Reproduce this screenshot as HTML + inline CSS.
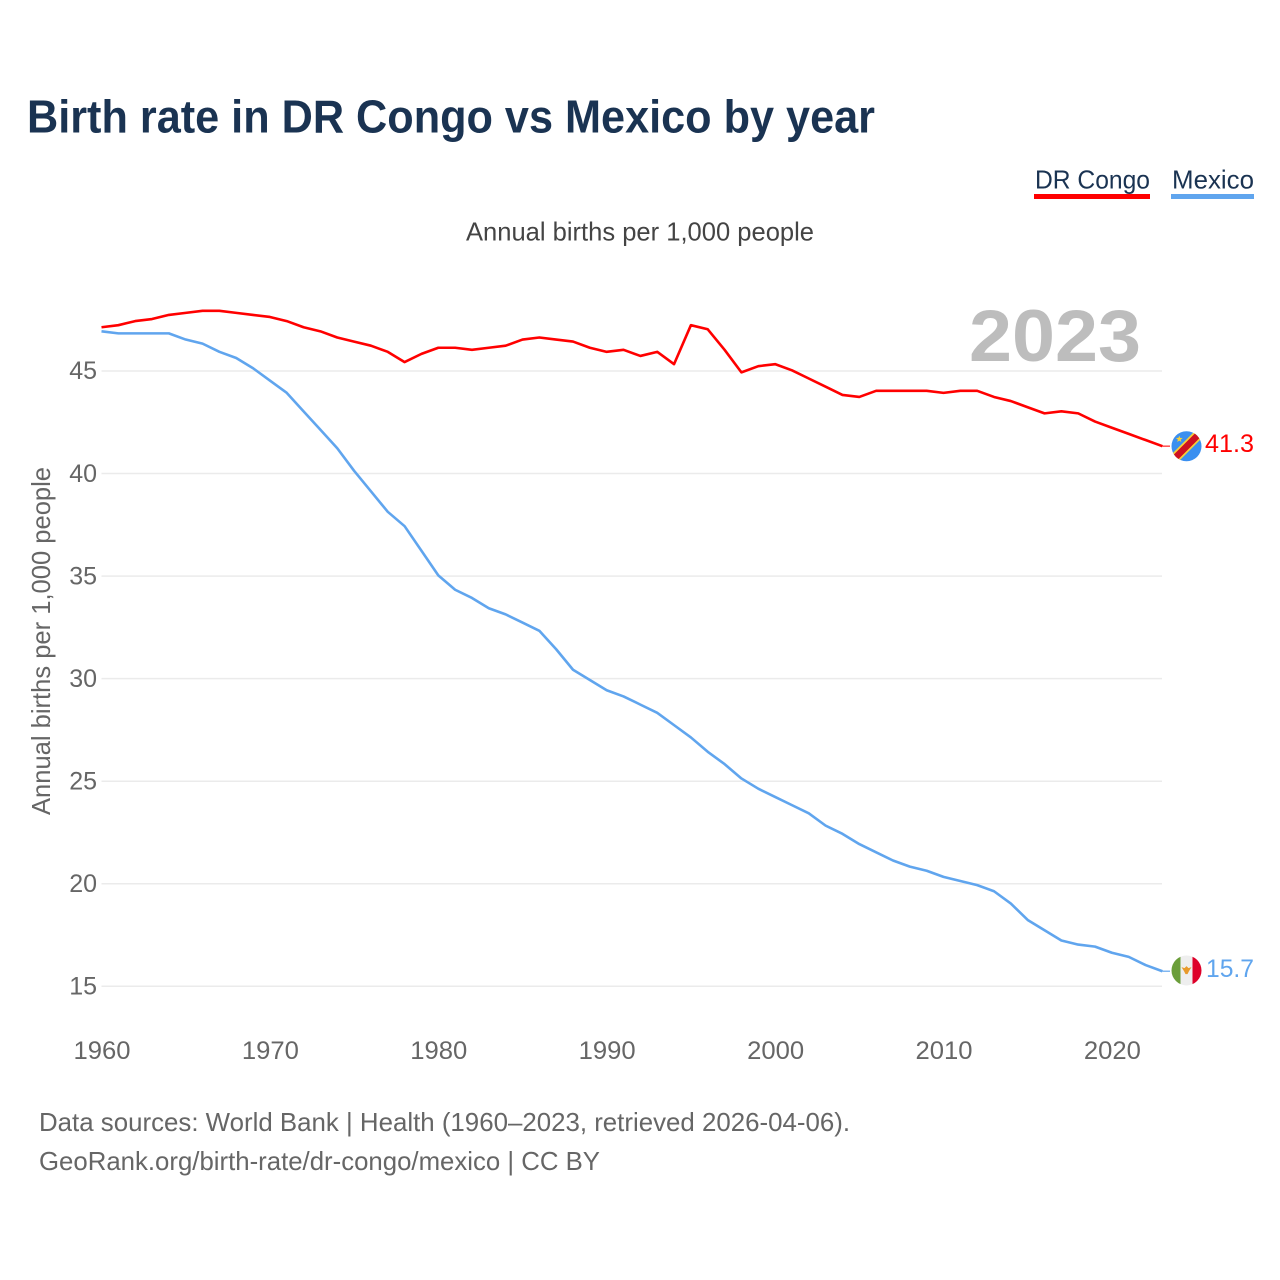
<!DOCTYPE html>
<html lang="en">
<head>
<meta charset="utf-8">
<title>Birth rate in DR Congo vs Mexico by year</title>
<style>
html,body{margin:0;padding:0;background:#fff;}
svg{display:block;font-family:"Liberation Sans",sans-serif;}
</style>
</head>
<body>
<svg id="chart" xmlns="http://www.w3.org/2000/svg" width="1280" height="1280" viewBox="0 0 1280 1280">
  <rect width="1280" height="1280" fill="#ffffff"/>
  <text x="27" y="132.5" font-size="46" font-weight="700" fill="#1a3352" textLength="848" lengthAdjust="spacingAndGlyphs">Birth rate in DR Congo vs Mexico by year</text>

  <g>
    <g>
      <text x="1035" y="188.5" font-size="26" fill="#1a3352" textLength="115" lengthAdjust="spacingAndGlyphs">DR Congo</text>
      <rect x="1034" y="194" width="116" height="5" fill="#ff0000"/>
    </g>
    <g>
      <text x="1172" y="188.5" font-size="26" fill="#1a3352" textLength="82" lengthAdjust="spacingAndGlyphs">Mexico</text>
      <rect x="1171" y="194" width="83" height="5" fill="#60a5ee"/>
    </g>
  </g>

  <text x="466" y="240.5" font-size="26" fill="#444444" textLength="348" lengthAdjust="spacingAndGlyphs">Annual births per 1,000 people</text>
  <text transform="translate(50,815) rotate(-90)" x="0" y="0" font-size="26" fill="#666666" textLength="348" lengthAdjust="spacingAndGlyphs">Annual births per 1,000 people</text>

  <g id="grid"></g>
  <g id="yticks"></g>
  <g id="xticks"></g>

  <text x="969" y="361" font-size="73" font-weight="700" fill="#bdbdbd" textLength="172" lengthAdjust="spacingAndGlyphs">2023</text>

  <g id="series"></g>

  <defs>
    <clipPath id="flag-clip-cd"><circle id="clip-cd" cx="1186.5" cy="446.3" r="15"/></clipPath>
    <clipPath id="flag-clip-mx"><circle id="clip-mx" cx="1186.5" cy="971.3" r="15"/></clipPath>
  </defs>

  <g id="flag-cd" clip-path="url(#flag-clip-cd)">
    <rect x="1171" y="431" width="31" height="31" fill="#3a8ff0"/>
    <line x1="1168" y1="465" x2="1205" y2="428" stroke="#f7d038" stroke-width="10"/>
    <line x1="1168" y1="465" x2="1205" y2="428" stroke="#ce1021" stroke-width="6.5"/>
    <polygon points="1179.3,435.6 1180.2,437.9 1182.7,438 1180.7,439.6 1181.4,442 1179.3,440.6 1177.2,442 1177.9,439.6 1175.9,438 1178.4,437.9" fill="#f7d038"/>
  </g>
  <g id="flag-mx" clip-path="url(#flag-clip-mx)">
    <rect x="1171" y="956" width="9.5" height="31" fill="#6b9e3a"/>
    <rect x="1180.5" y="956" width="12" height="31" fill="#eeeeee"/>
    <rect x="1192.5" y="956" width="10" height="31" fill="#de0029"/>
    <polygon points="1181.5,968 1184.5,969 1186.5,967 1188.5,969 1191.5,968 1189,972 1187.5,975 1185.5,975 1184,972" fill="#e89a2c"/>
  </g>

  <g id="endlabels"></g>

  <g>
    <text x="39" y="1131" font-size="26" fill="#666666" textLength="811" lengthAdjust="spacingAndGlyphs">Data sources: World Bank | Health (1960–2023, retrieved 2026-04-06).</text>
    <text x="39" y="1170" font-size="26" fill="#666666" textLength="561" lengthAdjust="spacingAndGlyphs">GeoRank.org/birth-rate/dr-congo/mexico | CC BY</text>
  </g>
</svg>
<script>
var startYear = 1960;
var yTickLabels = [15, 20, 25, 30, 35, 40, 45];
var xTickLabels = [1960, 1970, 1980, 1990, 2000, 2010, 2020];
var drCongoValues = [47.1,47.2,47.4,47.5,47.7,47.8,47.9,47.9,47.8,47.7,47.6,47.4,47.1,46.9,46.6,46.4,46.2,45.9,45.4,45.8,46.1,46.1,46.0,46.1,46.2,46.5,46.6,46.5,46.4,46.1,45.9,46.0,45.7,45.9,45.3,47.2,47.0,46.0,44.9,45.2,45.3,45.0,44.6,44.2,43.8,43.7,44.0,44.0,44.0,44.0,43.9,44.0,44.0,43.7,43.5,43.2,42.9,43.0,42.9,42.5,42.2,41.9,41.6,41.3];
var mexicoValues = [46.9,46.8,46.8,46.8,46.8,46.5,46.3,45.9,45.6,45.1,44.5,43.9,43.0,42.1,41.2,40.1,39.1,38.1,37.4,36.2,35.0,34.3,33.9,33.4,33.1,32.7,32.3,31.4,30.4,29.9,29.4,29.1,28.7,28.3,27.7,27.1,26.4,25.8,25.1,24.6,24.2,23.8,23.4,22.8,22.4,21.9,21.5,21.1,20.8,20.6,20.3,20.1,19.9,19.6,19.0,18.2,17.7,17.2,17.0,16.9,16.6,16.4,16.0,15.7];

var NS = 'http://www.w3.org/2000/svg';
function xScale(year) { return 101.5 + (year - 1960) * 16.84; }
function yScale(value) { return 371 + (45 - value) * 20.51; }
function markY(value) { return yScale(value) - 0.7; }
function make(tag, attrs, parent) {
  var el = document.createElementNS(NS, tag);
  for (var k in attrs) el.setAttribute(k, attrs[k]);
  parent.appendChild(el);
  return el;
}

var gridGroup = document.getElementById('grid');
var yTickGroup = document.getElementById('yticks');
yTickLabels.forEach(function (tick) {
  var y = yScale(tick);
  var line = make('line', {x1: 101.5, x2: 1162, y1: y, y2: y, stroke: '#ebebeb', 'stroke-width': 1.5}, gridGroup);
  
  
  var label = make('text', {x: 97, y: y + 8.2, 'text-anchor': 'end', 'font-size': 25, fill: '#666666'}, yTickGroup);
  
  
  label.textContent = tick;
});

var xTickGroup = document.getElementById('xticks');
xTickLabels.forEach(function (tick) {
  var label = make('text', {x: xScale(tick) - 28, y: 1059.2, 'font-size': 25, fill: '#666666', textLength: 57, lengthAdjust: 'spacingAndGlyphs'}, xTickGroup);
  
  
  label.textContent = tick;
});

function linePath(values) {
  return values.map(function (v, i) {
    return (i ? 'L' : 'M') + xScale(startYear + i).toFixed(2) + ' ' + markY(v).toFixed(2);
  }).join(' ');
}

var seriesGroup = document.getElementById('series');
var endGroup = document.getElementById('endlabels');

var connectorCongo = make('line', {x1: xScale(2023), x2: 1170, y1: markY(drCongoValues[63]), y2: markY(drCongoValues[63]), stroke: '#ff0000', 'stroke-width': 1.5, 'stroke-opacity': 0.7}, seriesGroup);



var lineCongo = make('path', {d: linePath(drCongoValues), fill: 'none', stroke: '#ff0000', 'stroke-width': 2.6, 'stroke-linejoin': 'round'}, seriesGroup);



var connectorMexico = make('line', {x1: xScale(2023), x2: 1170, y1: markY(mexicoValues[63]), y2: markY(mexicoValues[63]), stroke: '#60a5ee', 'stroke-width': 1.5, 'stroke-opacity': 0.8}, seriesGroup);



var lineMexico = make('path', {d: linePath(mexicoValues), fill: 'none', stroke: '#60a5ee', 'stroke-width': 2.6, 'stroke-linejoin': 'round'}, seriesGroup);



var lastCongo = drCongoValues[drCongoValues.length - 1];
var lastMexico = mexicoValues[mexicoValues.length - 1];

var labelCongo = make('text', {x: 1205, y: yScale(lastCongo) + 5.2, 'font-size': 25, fill: '#ff0000', textLength: 49, lengthAdjust: 'spacingAndGlyphs'}, endGroup);


labelCongo.textContent = lastCongo.toFixed(1);

var labelMexico = make('text', {x: 1206, y: yScale(lastMexico) + 5.2, 'font-size': 25, fill: '#60a5ee', textLength: 48, lengthAdjust: 'spacingAndGlyphs'}, endGroup);


labelMexico.textContent = lastMexico.toFixed(1);

document.getElementById('flag-cd').setAttribute('transform', 'translate(0,' + (yScale(lastCongo) - 446.9) + ')');
document.getElementById('flag-mx').setAttribute('transform', 'translate(0,' + (yScale(lastMexico) - 972.8) + ')');
</script>
</body>
</html>
